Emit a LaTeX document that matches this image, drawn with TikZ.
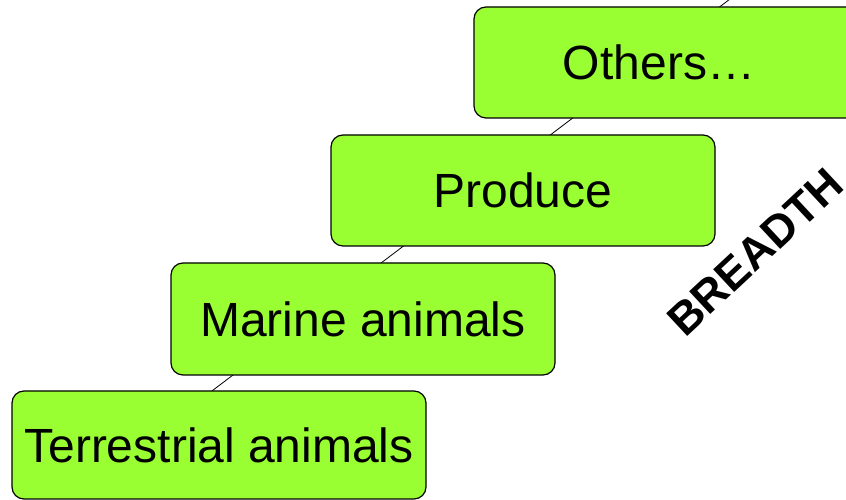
\documentclass[tikz,border=0pt]{standalone}
\usepackage{fontspec}
\setmainfont{Liberation Sans}
\usepackage{tikz}
\usetikzlibrary{positioning}
\definecolor{stagegreen}{RGB}{153,255,51}

\begin{document}
\begin{tikzpicture}[x=1pt,y=1pt,
  stage/.style={draw=black,line width=1.2pt,fill=stagegreen,rounded corners=12pt,
    minimum width=384pt,minimum height=111pt,inner sep=0pt,
    font=\fontsize{48}{56}\selectfont}]

\useasboundingbox (0,0) rectangle (846,500);

%axis behind the boxes
\coordinate (axislo) at (120,39.5);
\coordinate (axishi) at (736,505.5);
\draw[black,line width=0.8pt] (axislo) -- (axishi);

\node[stage,minimum width=414pt,minimum height=108pt] (terr) at (219,55) {Terrestrial animals};
\node[stage,minimum height=112pt] (marine) at (363,181) {Marine animals};
\node[stage] (produce) at (523,309.5) {Produce};
\node[stage] (others) at (666,437.5) {Others\ldots\hspace*{14pt}};

\node[rotate=43,font=\bfseries\fontsize{45}{52}\selectfont] (breadth) at (755,248) {BREADTH};
\end{tikzpicture}
\end{document}
